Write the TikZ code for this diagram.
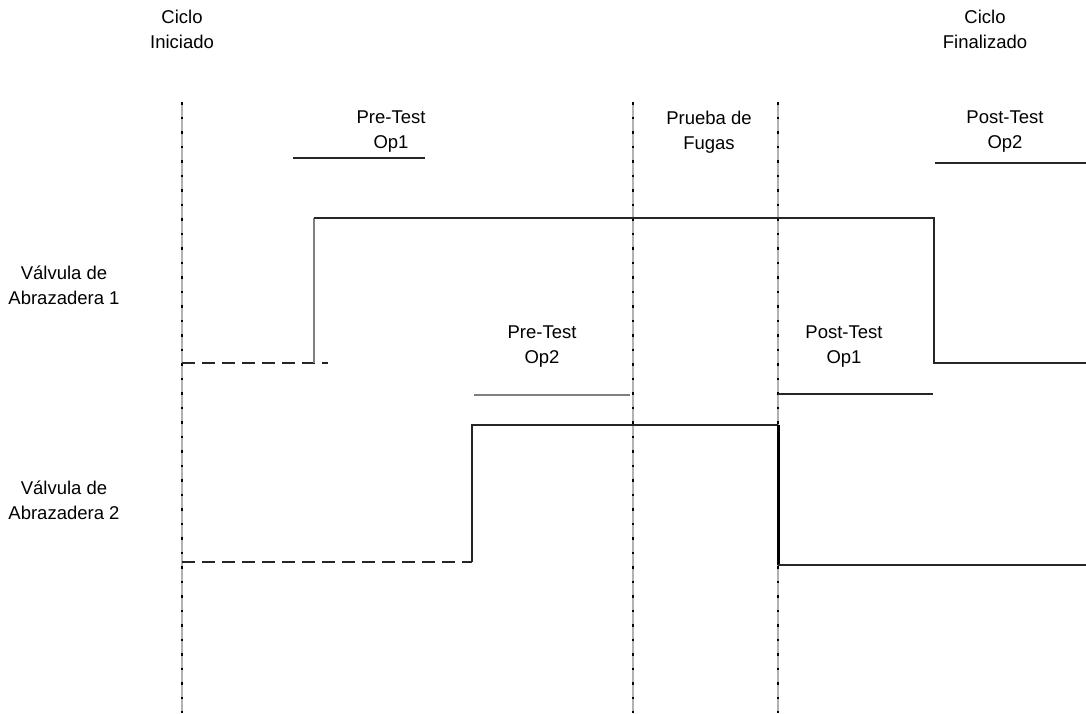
\documentclass[tikz,border=0pt]{standalone}
\usepackage{fontspec}
\setmainfont{Liberation Sans}
\begin{document}
\begin{tikzpicture}[x=1pt,y=-1pt,
  lbl/.style={font=\fontsize{18.5}{25}\selectfont, align=center, inner sep=0pt, anchor=center},
  guide/.style={gray!60, line width=1.2pt},
  guidedots/.style={black, line width=1.3pt, dash pattern=on 2.5pt off 12pt},
  sig/.style={black!85, line width=1.7pt},
  sigdash/.style={black!85, line width=1.7pt, dash pattern=on 13pt off 7pt},
  graysig/.style={gray, line width=2.8pt},
  bar/.style={black!85, line width=1.7pt},
  graybar/.style={gray, line width=2.8pt}]
\useasboundingbox (0,0) rectangle (1086,713);
% vertical guides
\foreach \n/\x in {g1/182, g2/633, g3/778}{
  \coordinate (\n t) at (\x,102);
  \coordinate (\n b) at (\x,713);
  \draw[guide] (\n t) -- (\n b);
  \draw[guidedots] (\n t) -- (\n b);
}
% labels
\node[lbl] (ci) at (182,29) {Ciclo\\Iniciado};
\node[lbl] (cf) at (985,29) {Ciclo\\Finalizado};
\node[lbl] (pt1) at (391,132) {Pre-Test\\Op1};
\node[lbl] (pf) at (709,132) {Prueba de\\Fugas};
\node[lbl] (po2) at (1005,132) {Post-Test\\Op2};
\node[lbl] (v1) at (64,285) {Válvula de\\Abrazadera 1};
\node[lbl] (pt2) at (542,347) {Pre-Test\\Op2};
\node[lbl] (po1) at (844,347) {Post-Test\\Op1};
\node[lbl] (v2) at (64,500) {Válvula de\\Abrazadera 2};
% phase bars
\coordinate (b1a) at (293,158); \coordinate (b1b) at (425,158);
\draw[bar] (b1a) -- (b1b);
\coordinate (b2a) at (935,163); \coordinate (b2b) at (1086,163);
\draw[bar] (b2a) -- (b2b);
\coordinate (b3a) at (474,395); \coordinate (b3b) at (630,395);
\draw[graybar] (b3a) -- (b3b);
\coordinate (b4a) at (778,394); \coordinate (b4b) at (933,394);
\draw[bar] (b4a) -- (b4b);
% valve 1 signal
\coordinate (a0) at (182,363);
\coordinate (a1) at (328,363);
\coordinate (a2) at (314,363);
\coordinate (a3) at (314,218);
\coordinate (a4) at (934,218);
\coordinate (a5) at (934,363);
\coordinate (a6) at (1086,363);
\draw[sigdash] (a0) -- (a1);
\draw[graysig] (a2) -- (a3);
\draw[sig] (a3) -- (a4) -- (a5) -- (a6);
% valve 2 signal
\coordinate (c0) at (182,562);
\coordinate (c1) at (472,562);
\coordinate (c2) at (472,425);
\coordinate (c3) at (778,425);
\coordinate (c4) at (778,565);
\coordinate (c5) at (1086,565);
\draw[sigdash] (c0) -- (c1);
\draw[sig] (c1) -- (c2) -- (c3);
\draw[black, line width=3pt] (c3) -- (c4);
\draw[sig] (c4) -- (c5);
\end{tikzpicture}
\end{document}
